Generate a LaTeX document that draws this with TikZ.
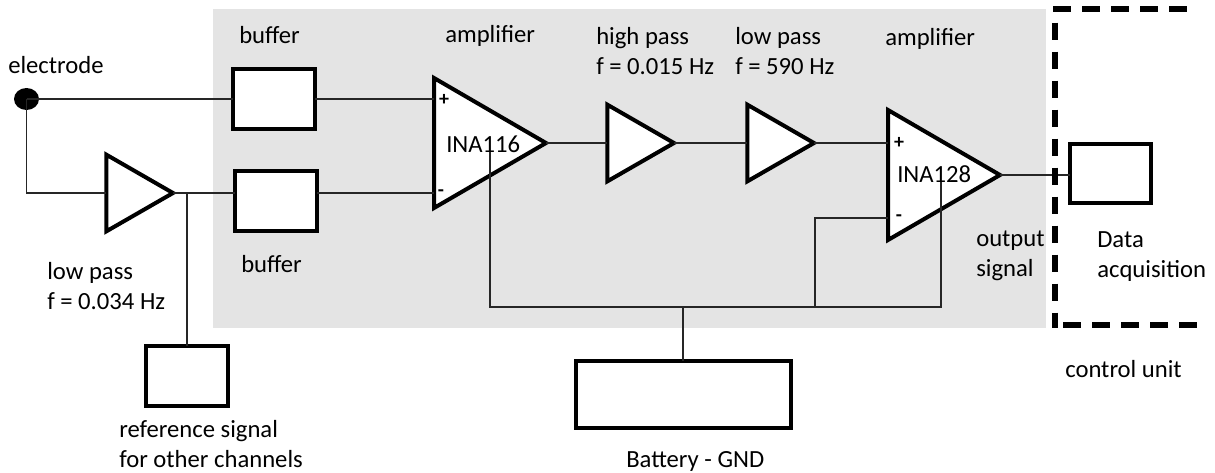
\documentclass[tikz,border=0pt]{standalone}
\usepackage{fontspec}
\setmainfont{Carlito}
\usetikzlibrary{shapes.geometric}
\definecolor{panel}{HTML}{E4E4E4}
\tikzset{
  x=0.75pt,y=-0.75pt,
  wire/.style={line width=0.95pt,black!85},
  blockbox/.style={draw,line width=3pt,fill=white,inner sep=0pt,outer sep=0pt,minimum width=61.5pt,minimum height=45pt},
  tri/.style={draw,line width=3pt,fill=white,isosceles triangle,isosceles triangle stretches,inner sep=0pt,outer sep=0pt,anchor=apex,miter limit=10},
  smalltri/.style={tri,minimum width=57.5pt,minimum height=50pt},
  bigtri/.style={tri,minimum width=97.5pt,minimum height=84pt},
  lab/.style={anchor=base west,inner sep=0pt,font=\fontsize{18.5pt}{20pt}\selectfont},
  sign/.style={anchor=center,inner sep=0pt,font=\bfseries\fontsize{15pt}{15pt}\selectfont},
  dashline/.style={line width=4pt,dash pattern=on 13.5pt off 8.25pt},
}
\begin{document}
\begin{tikzpicture}
\useasboundingbox (0,0) rectangle (1215,472);
\fill[panel] (213,9) rectangle (1046,328);

% blocks
\node[fill=black,ellipse,inner sep=0pt,minimum width=18.75pt,minimum height=16.5pt] (el) at (26.5,99) {};
\node[blockbox] (b1) at (274,99) {};
\node[blockbox] (b2) at (276,201) {};
\node[smalltri] (lp) at (173,193) {};
\node[bigtri] (a1) at (546,143) {};
\node[smalltri] (hp) at (674,143) {};
\node[smalltri] (lo) at (814,143) {};
\node[bigtri] (a2) at (1000,175) {};
\node[blockbox] (ref) at (187,376) {};
\node[blockbox,minimum width=161pt,minimum height=50pt] (bat) at (683.5,394.5) {};
\node[blockbox,minimum width=60.75pt,minimum height=44.25pt] (daq) at (1110.5,173.5) {};

\coordinate (j1) at (187,193);
\coordinate (r1) at (490,152);
\coordinate (r2) at (941,182);
\coordinate (bus1) at (490,307);
\coordinate (bus2) at (941,307);
\coordinate (m2) at (815,218);
\coordinate (bm) at (815,307);
\coordinate (bb) at (683,307);

% connectors
\draw[wire] (el.center) -- (b1.west);
\draw[wire] (b1.east) -- (b1.east -| a1.lower side);
\draw[wire] (el.center) |- (lp.lower side);
\draw[wire] (lp.apex) -- (b2.west |- lp.apex);
\draw[wire] (b2.east |- lp.apex) -- (a1.lower side |- lp.apex);
\draw[wire] (j1) -- (ref.north -| j1);
\draw[wire] (a1.apex) -- (hp.lower side);
\draw[wire] (hp.apex) -- (lo.lower side);
\draw[wire] (lo.apex) -- (a2.lower side |- lo.apex);
\draw[wire] (a2.lower side |- m2) -- (m2) -- (bm);
\draw[wire] (r1) -- (bus1) -- (bus2) -- (r2);
\draw[wire] (bb) -- (bat.north -| bb);
\draw[wire] (a2.apex) -- (daq.west |- a2.apex);

% control unit outline
\draw[dashline,line width=4.5pt] (1053,9) -- (1190,9);
\draw[dashline,dash pattern=on 12.75pt off 9pt] (1055,22.5) -- (1055,328);
\draw[dashline] (1063,325) -- (1198,325);

% labels
\node[lab] (t1) at (8,73) {electrode};
\node[lab] (t2) at (239,43) {buffer};
\node[lab] (t3) at (445,42) {amplifier};
\node[lab] (t4) at (596,44) {high pass};
\node[lab] (t5) at (596,74) {f = 0.015 Hz};
\node[lab] (t6) at (735,44) {low pass};
\node[lab] (t7) at (735,74) {f = 590 Hz};
\node[lab] (t8) at (885,45) {amplifier};
\node[lab] (t9) at (241,272) {buffer};
\node[lab] (t10) at (47,279) {low pass};
\node[lab] (t11) at (47,309) {f = 0.034 Hz};
\node[lab] (t12) at (119,437) {reference signal};
\node[lab] (t13) at (119,467) {for other channels};
\node[lab] (t14) at (626,467) {Battery - GND};
\node[lab] (t15) at (1065,377) {control unit};
\node[lab] (t16) at (976,246) {output};
\node[lab] (t17) at (976,276) {signal};
\node[lab] (t18) at (1097,247) {Data};
\node[lab] (t19) at (1097,277) {acquisition};
\node[lab] (t20) at (446,152) {INA116};
\node[lab] (t21) at (897,182) {INA128};
\node[sign] (p1) at (444,100) {+};
\node[sign] (m1) at (441,193) {-};
\node[sign] (p2) at (899,143) {+};
\node[sign] (m3) at (899,218) {-};
\end{tikzpicture}
\end{document}
